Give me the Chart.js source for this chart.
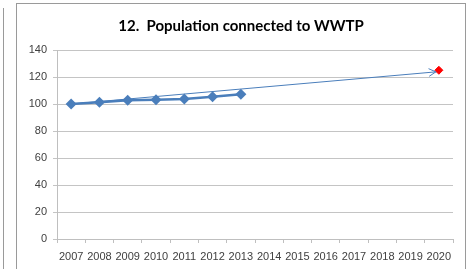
<!DOCTYPE html>
<html>
<head>
<meta charset="utf-8">
<script src="https://cdn.jsdelivr.net/npm/chart.js@4.4.1/dist/chart.umd.min.js"></script>
<style>
  html, body { margin: 0; padding: 0; background: #fff; }
  body { width: 469px; height: 269px; position: relative; overflow: hidden; }
  #prev { position: absolute; left: 3px; top: 8px; width: 1px; height: 300px; background: #9a9a9a; }
  #frame { position: absolute; left: 16px; top: 3px; width: 450px; height: 300px; border: 1px solid #9a9a9a; box-sizing: border-box; }
  #title { position: absolute; left: 17px; width: 448px; top: 16px; height: 18px; line-height: 18px; text-align: center;
           font-family: Lato, sans-serif; font-weight: bold; font-size: 15px; color: #000; white-space: pre; z-index: 2; }
  canvas { position: absolute; left: 0; top: 0; }
</style>
</head>
<body>
<div id="prev"></div>
<div id="frame"></div>
<canvas id="c" width="469" height="269"></canvas>
<div id="title"></div>
<script>
const years = ['2007','2008','2009','2010','2011','2012','2013','2014','2015','2016','2017','2018','2019','2020'];
const actual = [100, 101.3, 102.7, 103.2, 103.7, 105.4, 107.2, null, null, null, null, null, null, null];
const trend = [100, null, null, null, null, null, null, null, null, null, null, null, null, 124];
const target = [null, null, null, null, null, null, null, null, null, null, null, null, null, 125];
const yTicks = [0, 20, 40, 60, 80, 100, 120, 140];
const titleText = '12.  Population connected to WWTP';

document.getElementById('title').textContent = titleText;

const BLUE = '#4A7EBB';

const arrowPlugin = {
  id: 'arrowHead',
  afterDatasetsDraw(chart) {
    const meta = chart.getDatasetMeta(1);
    const pts = meta.data.filter((p, i) => trend[i] !== null);
    if (pts.length < 2) return;
    const a = pts[0], b = pts[pts.length - 1];
    const ang = Math.atan2(b.y - a.y, b.x - a.x);
    const tipX = b.x - 3 * Math.cos(ang), tipY = b.y - 3 * Math.sin(ang);
    const len = 8, spread = 0.5;
    const ctx = chart.ctx;
    ctx.save();
    ctx.strokeStyle = BLUE;
    ctx.lineWidth = 1;
    ctx.beginPath();
    ctx.moveTo(tipX - len * Math.cos(ang - spread), tipY - len * Math.sin(ang - spread));
    ctx.lineTo(tipX, tipY);
    ctx.lineTo(tipX - len * Math.cos(ang + spread), tipY - len * Math.sin(ang + spread));
    ctx.stroke();
    ctx.restore();
  }
};

new Chart(document.getElementById('c'), {
  type: 'line',
  data: {
    labels: years,
    datasets: [
      {
        data: target,
        borderColor: '#FF0000',
        backgroundColor: '#FF0000',
        pointStyle: 'rectRot',
        pointRadius: 4,
        showLine: false,
        order: 0
      },
      {
        data: trend,
        borderColor: BLUE,
        borderWidth: 1,
        pointRadius: 0,
        spanGaps: true,
        order: 2
      },
      {
        data: actual,
        borderColor: BLUE,
        backgroundColor: BLUE,
        borderWidth: 2.5,
        pointStyle: 'rectRot',
        pointRadius: 5.5,
        pointBorderWidth: 0,
        order: 1
      }
    ]
  },
  options: {
    responsive: false,
    animation: false,
    layout: { padding: { left: 0, right: 16, top: 50, bottom: 0 } },
    plugins: {
      legend: { display: false },
      tooltip: { enabled: false },
      title: { display: false }
    },
    scales: {
      x: {
        type: 'category',
        offset: true,
        grid: { display: true, offset: true, drawOnChartArea: false, tickLength: 4, color: '#bfbfbf' },
        border: { display: true, color: '#bfbfbf' },
        ticks: { color: '#404040', font: { family: 'Liberation Sans', size: 11 }, maxRotation: 0, autoSkip: false, padding: 7 },
        afterFit(s) { s.height = 30; }
      },
      y: {
        min: 0, max: 140,
        afterBuildTicks(s) { s.ticks = yTicks.map(v => ({ value: v })); },
        grid: { color: '#c4c4c4', tickLength: 4 },
        border: { display: true, color: '#bfbfbf' },
        ticks: { color: '#404040', font: { family: 'Liberation Sans', size: 11 }, padding: 6 },
        afterFit(s) { s.width = 57; }
      }
    }
  },
  plugins: [arrowPlugin]
});
</script>
</body>
</html>
